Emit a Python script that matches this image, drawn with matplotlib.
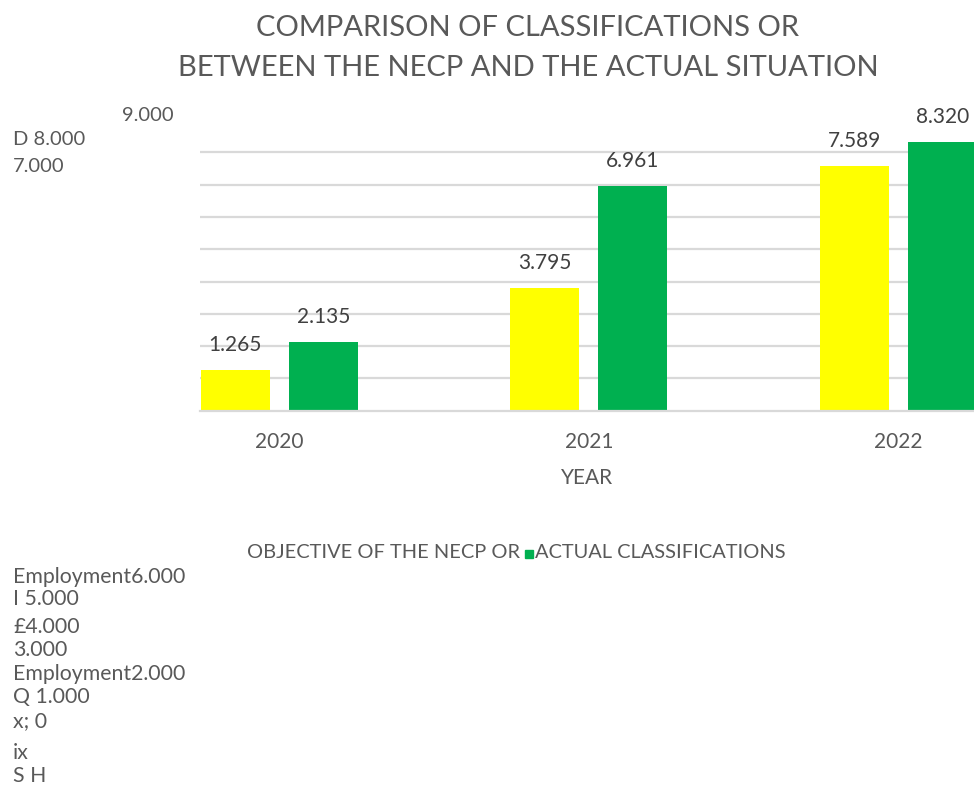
import matplotlib.pyplot as plt
from matplotlib.patches import Rectangle

years = ['2020', '2021', '2022']
necp_target = [1.265, 3.795, 7.589]
actual_classifications = [2.135, 6.961, 8.320]

title_lines = ['COMPARISON OF CLASSIFICATIONS OR',
               'BETWEEN THE NECP AND THE ACTUAL SITUATION']
legend_left = 'OBJECTIVE OF THE NECP OR '
legend_right = 'ACTUAL CLASSIFICATIONS'

# stray axis text left over around the plot
upper_labels = [('9.000', 122, 121), ('D 8.000', 13, 145), ('7.000', 13, 172)]
lower_labels = ['Employment6.000', 'I 5.000', '£4.000', '3.000',
                'Employment2.000', 'Q 1.000', 'x; 0', 'ix', 'S H']
lower_baselines = [583, 605, 633, 656, 680, 703, 727, 759, 782]

YELLOW = '#FFFF00'
GREEN = '#00B050'
TEXT = '#595959'
GRID = '#D9D9D9'

W, H = 974, 789
plt.rcParams['font.family'] = ['Lato', 'DejaVu Sans']


def fx(px):
    return px / W


def fy(py):
    return 1 - py / H


def draw_bars(ax):
    width = 0.2226
    offset = 0.1419
    pos = list(range(len(years)))
    b1 = ax.bar([p - offset for p in pos], necp_target, width, color=YELLOW)
    b2 = ax.bar([p + offset for p in pos], actual_classifications, width, color=GREEN)

    for bars, vals in ((b1, necp_target), (b2, actual_classifications)):
        for rect, v in zip(bars, vals):
            ax.annotate(f'{v:.3f}', (rect.get_x() + rect.get_width() / 2, v),
                        xytext=(0, 18), textcoords='offset points',
                        ha='center', va='center', fontsize=15, color='#404040',
                        annotation_clip=False)

    ax.set_xlim(-0.256, 2.244)
    ax.set_ylim(0, 9)
    ax.set_yticks(range(1, 9))
    ax.yaxis.grid(True, color=GRID, linewidth=1.6)
    ax.set_axisbelow(True)
    ax.tick_params(axis='y', left=False, labelleft=False)
    ax.set_xticks(pos)
    ax.set_xticklabels(years)
    ax.tick_params(axis='x', bottom=False, labelsize=15, labelcolor=TEXT, pad=12)
    ax.set_xlabel('YEAR', fontsize=15, color=TEXT, labelpad=11)
    for s in ('left', 'right', 'top'):
        ax.spines[s].set_visible(False)
    ax.spines['bottom'].set_color(GRID)
    ax.spines['bottom'].set_linewidth(1.6)


fig = plt.figure(figsize=(9.74, 7.89), dpi=100)
ax = fig.add_axes([fx(200), fy(410.7), 1 - fx(200), 9 * 32.3 / H])
draw_bars(ax)

fig.text(fx(528), fy(36), title_lines[0], ha='center', va='baseline',
         fontsize=21, color=TEXT)
fig.text(fx(528), fy(76), title_lines[1], ha='center', va='baseline',
         fontsize=21, color=TEXT)

for txt, x, y in upper_labels:
    fig.text(fx(x), fy(y), txt, ha='left', va='baseline', fontsize=14.5, color=TEXT)

for txt, y in zip(lower_labels, lower_baselines):
    fig.text(fx(13), fy(y), txt, ha='left', va='baseline', fontsize=15.3, color=TEXT)

# legend line: text, small green square, text
fig.text(fx(247), fy(558), legend_left, ha='left', va='baseline', fontsize=14.4, color=TEXT)
fig.patches.append(Rectangle((fx(525), fy(558)), fx(8), 8 / H, color=GREEN,
                             transform=fig.transFigure, figure=fig))
fig.text(fx(535), fy(558), legend_right, ha='left', va='baseline', fontsize=14.4, color=TEXT)

fig.savefig('out.png', dpi=100)
